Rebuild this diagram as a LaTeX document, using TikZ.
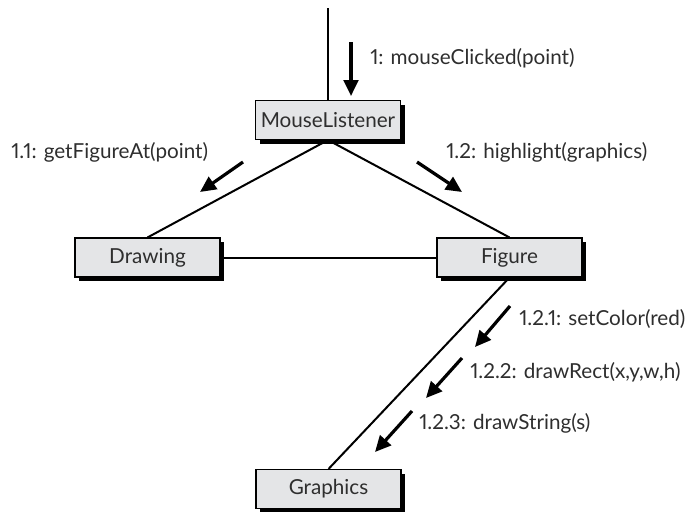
\documentclass[tikz,border=0pt]{standalone}
\usepackage{fontspec}
\setmainfont{Lato}[Numbers=Proportional]
\usepackage{xcolor}
\usetikzlibrary{arrows.meta,shadows}

\definecolor{boxgray}{HTML}{E4E5E7}
\definecolor{textgray}{HTML}{2E2E2E}

\begin{document}
\begin{tikzpicture}[x=0.75pt,y=-0.75pt,
  font=\fontsize{15.5}{18}\selectfont, text=textgray,
  obj/.style={rectangle,draw=black,line width=0.8pt,fill=boxgray,
    minimum width=108.75pt,minimum height=29.25pt,inner sep=0pt,
    drop shadow={shadow xshift=3pt,shadow yshift=-3pt,fill=black,opacity=1}},
  link/.style={line width=1.5pt,black},
  msg/.style={line width=2.4pt,black,-{Triangle[length=12pt,width=11pt]}},
  lbl/.style={anchor=west,inner sep=0pt}]
\useasboundingbox (0,0) rectangle (688,511);

% Objects
\node[obj] (listener) at (328,120) {MouseListener};
\node[obj] (drawing) at (147.5,257.5) {Drawing};
\node[obj] (figure) at (509.5,257.5) {Figure};
\node[obj] (graphics) at (328.5,489) {Graphics};
\coordinate (entry) at (328,8);

% Links
\draw[link] (entry) -- (listener.north);
\draw[link] (listener.south) -- (drawing.north);
\draw[link] (listener.south) -- (figure.north);
\draw[link] (drawing.east) -- (figure.west);
\draw[link] (figure.south) -- (graphics.north);

% Messages
\draw[msg] (351,42) -- (351,96);
\node[lbl] (m1) at (370,58) {1: mouseClicked(point)};

\draw[msg] (243,162) -- (200,192);
\node[lbl] (m11) at (11,152) {1.1: getFigureAt(point)};

\draw[msg] (417,162) -- (462,192);
\node[lbl] (m12) at (446,152) {1.2: highlight(graphics)};

\draw[msg] (510,306) -- (475,347);
\node[lbl] (m121) at (519,319) {1.2.1: setColor(red)};

\draw[msg] (462,358) -- (426,398);
\node[lbl] (m122) at (470,372) {1.2.2: drawRect(x,y,w,h)};

\draw[msg] (412,411) -- (375,452);
\node[lbl] (m123) at (419,423) {1.2.3: drawString(s)};
\end{tikzpicture}
\end{document}
